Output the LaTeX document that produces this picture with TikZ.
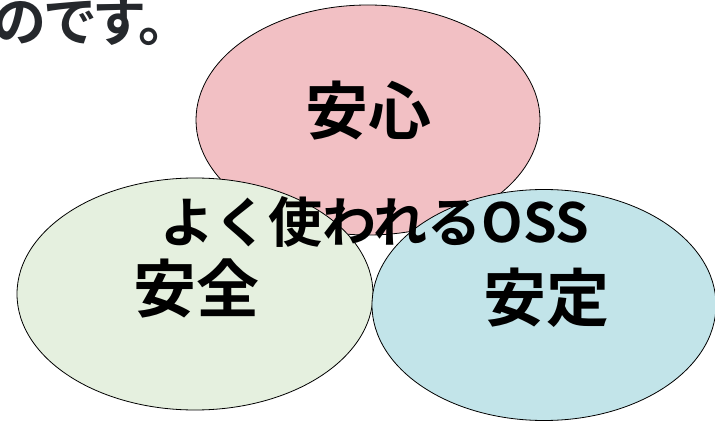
\documentclass[tikz,border=0pt]{standalone}
\usepackage{fontspec}
\setmainfont{Noto Sans CJK JP}[BoldFont={Noto Sans CJK JP Bold}]
\newfontfamily\headfont{Noto Sans CJK JP Bold}[RawFeature=+palt]
\usetikzlibrary{shapes.geometric}

\definecolor{anshinfill}{RGB}{242,192,196}
\definecolor{anzenfill}{RGB}{229,240,223}
\definecolor{anteifill}{RGB}{194,228,233}
\definecolor{headtext}{RGB}{37,40,44}

\begin{document}
\begin{tikzpicture}[x=1pt,y=-1pt,
  blob/.style={ellipse, draw=black, line width=.8pt, inner sep=0pt},
  bigword/.style={font=\fontsize{63}{63}\selectfont\bfseries, inner sep=0pt}]
\useasboundingbox (0,0) rectangle (715,422);

\node[anchor=base east, inner sep=0pt, text=headtext, font=\fontsize{54}{54}\headfont] (head) at (165,42) {のです。};

\node[blob, fill=anshinfill, minimum width=344pt, minimum height=230pt] (anshin) at (368,120) {};
\node[blob, fill=anzenfill, minimum width=356pt, minimum height=232pt] (anzen) at (195,294) {};
\node[blob, fill=anteifill, minimum width=344pt, minimum height=231pt] (antei) at (544,305) {};

\node[bigword] (anshinlabel) at (368,111) {安心};
\node[bigword] (anzenlabel) at (196,288) {安全};
\node[bigword] (anteilabel) at (546,298) {安定};
\node[bigword, font=\fontsize{54}{54}\selectfont\bfseries] (oss) at (375,222) {よく使われるOSS};

\end{tikzpicture}
\end{document}
